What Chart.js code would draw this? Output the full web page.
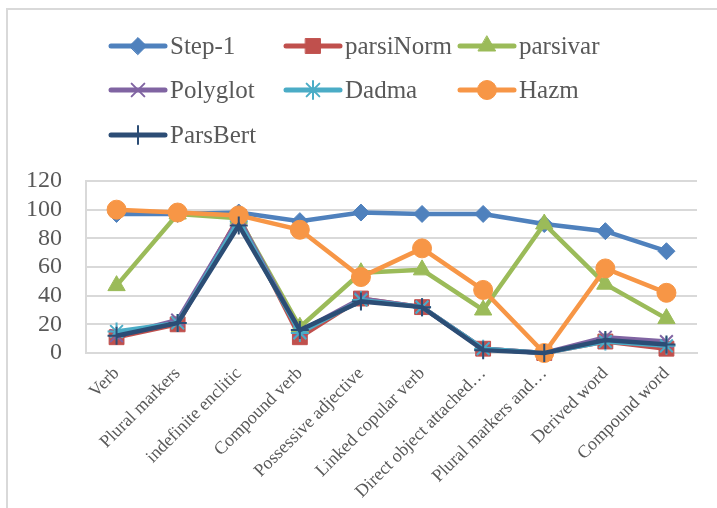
<!DOCTYPE html>
<html>
<head>
<meta charset="utf-8">
<script src="https://cdn.jsdelivr.net/npm/chart.js@4.4.0/dist/chart.umd.min.js"></script>
<style>
  html, body { margin: 0; padding: 0; background: #fff; overflow: hidden; }
  #wrap { position: relative; width: 717px; height: 508px; }
  #frame { position: absolute; left: 6px; top: 8px; width: 730px; height: 520px; border: 2px solid #d9d9d9; box-sizing: border-box; }
  canvas { position: absolute; left: 0; top: 0; }
</style>
</head>
<body>
<div id="wrap">
  <div id="frame"></div>
  <canvas id="chart" width="717" height="508"></canvas>
</div>
<script>
// categories on the x axis
const categories = ["Verb", "Plural markers", "indefinite enclitic", "Compound verb",
  "Possessive adjective", "Linked copular verb", "Direct object attached\u2026",
  "Plural markers and\u2026", "Derived word", "Compound word"];

// values
const step1     = [97, 97, 98, 92, 98, 97, 97, 90, 85, 71];
const parsiNorm = [11, 20, 95, 11, 38, 32, 3, 0, 8, 3];
const parsivar  = [47, 97, 94, 18, 56, 58, 30, 90, 48, 24];
const polyglot  = [12, 23, 94, 15, 38, 32, 3, 0, 11, 8];
const dadma     = [15, 21, 92, 14, 37, 32, 3, 0, 8, 5];
const hazm      = [100, 98, 96, 86, 53, 73, 44, 0, 59, 42];
const parsBert  = [12, 21, 89, 16, 36, 32, 2, 0, 9, 6];

const yTicks = [0, 20, 40, 60, 80, 100, 120];

const serif = "'Liberation Serif', 'DejaVu Serif', serif";
const textColor = "#595959";
const gridColor = "#d9d9d9";

function series(label, values, color, style, radius, order, bw) {
  return {
    label: label,
    data: values,
    borderColor: color,
    backgroundColor: color,
    borderWidth: 4.5,
    pointStyle: style,
    pointRadius: radius,
    pointBackgroundColor: color,
    pointBorderColor: color,
    pointBorderWidth: bw,
    tension: 0,
    clip: false,
    order: order
  };
}

// legend laid out as a 3 column grid like the original
const legendCols = [111, 286, 460];
const legendRows = [46, 90, 135];

const gridLegend = {
  id: "gridLegend",
  afterDraw(chart) {
    const ctx = chart.ctx;
    chart.data.datasets.forEach((ds, i) => {
      const x = legendCols[i % 3];
      const y = legendRows[Math.floor(i / 3)];
      ctx.save();
      ctx.strokeStyle = ds.borderColor;
      ctx.lineWidth = 5;
      ctx.lineCap = "round";
      ctx.beginPath();
      ctx.moveTo(x, y);
      ctx.lineTo(x + 54, y);
      ctx.stroke();
      ctx.fillStyle = ds.pointBackgroundColor;
      ctx.strokeStyle = ds.pointBorderColor;
      ctx.lineWidth = ds.pointBorderWidth;
      Chart.helpers.drawPoint(ctx, {
        pointStyle: ds.pointStyle,
        radius: ds.pointRadius,
        rotation: 0,
        borderWidth: ds.pointBorderWidth
      }, x + 27, y);
      ctx.fillStyle = textColor;
      ctx.font = "25px " + serif;
      ctx.textBaseline = "middle";
      ctx.textAlign = "left";
      ctx.fillText(ds.label, x + 59, y + 1);
      ctx.restore();
    });
  }
};

new Chart(document.getElementById("chart"), {
  type: "line",
  data: {
    labels: categories,
    datasets: [
      series("Step-1", step1, "#4F81BD", "rectRot", 8.5, 6, 1),
      series("parsiNorm", parsiNorm, "#C0504D", "rect", 10.5, 5, 1),
      series("parsivar", parsivar, "#9BBB59", "triangle", 10, 4, 1),
      series("Polyglot", polyglot, "#8064A2", "crossRot", 9, 3, 2),
      series("Dadma", dadma, "#4BACC6", "star", 9, 2, 2),
      series("Hazm", hazm, "#F79646", "circle", 9.5, 1, 1),
      series("ParsBert", parsBert, "#2C4D75", "cross", 9, 0, 2)
    ]
  },
  options: {
    responsive: false,
    animation: false,
    layout: { padding: { top: 181, right: 20, left: 0, bottom: 0 } },
    plugins: {
      legend: { display: false },
      tooltip: { enabled: false }
    },
    scales: {
      x: {
        offset: true,
        grid: { display: false, drawTicks: false },
        border: { display: true, color: gridColor, width: 2 },
        ticks: {
          autoSkip: false,
          minRotation: 45,
          maxRotation: 45,
          padding: 10,
          color: textColor,
          font: { family: serif, size: 18 }
        },
        afterFit(scale) { scale.height = 155; }
      },
      y: {
        min: 0,
        max: 120,
        afterBuildTicks(scale) { scale.ticks = yTicks.map(v => ({ value: v })); },
        grid: { color: gridColor, lineWidth: 2, drawTicks: false },
        border: { display: true, color: gridColor, width: 2 },
        ticks: {
          autoSkip: false,
          padding: 24,
          color: textColor,
          font: { family: serif, size: 24 }
        },
        afterFit(scale) { scale.width = 86; }
      }
    }
  },
  plugins: [gridLegend]
});
</script>
</body>
</html>
